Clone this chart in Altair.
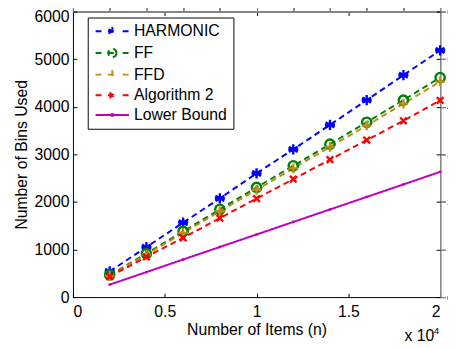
import altair as alt
import pandas as pd

n_items = [2000, 4000, 6000, 8000, 10000, 12000, 14000, 16000, 18000, 20000]
series_names = ["HARMONIC", "FF", "FFD", "Algorithm 2", "Lower Bound"]
harmonic = [540, 1050, 1565, 2075, 2600, 3105, 3620, 4140, 4665, 5185]
ff = [465, 915, 1380, 1845, 2305, 2760, 3215, 3675, 4140, 4615]
ffd = [450, 895, 1350, 1805, 2255, 2705, 3155, 3605, 4065, 4530]
alg2 = [430, 845, 1245, 1660, 2070, 2480, 2890, 3300, 3705, 4135]
lower = [262, 525, 790, 1053, 1316, 1579, 1842, 2105, 2368, 2632]
colors = ["#0000FF", "#008000", "#BF8C1A", "#FF0000", "#BF00BF"]
dashes = [[6, 4], [6, 4], [6, 4], [6, 4], [1, 0]]

rows = []
for name, vals in zip(series_names, [harmonic, ff, ffd, alg2, lower]):
    for x, y in zip(n_items, vals):
        rows.append({"n": x, "bins": y, "series": name})
df = pd.DataFrame(rows)

FONT = "Liberation Sans"
FS = 16
W, H = 373, 290

xscale = alt.Scale(domain=[0, 20000], nice=False, zero=False)
yscale = alt.Scale(domain=[0, 6000], nice=False, zero=False)
xvals = [0, 5000, 10000, 15000, 20000]
yvals = [0, 1000, 2000, 3000, 4000, 5000, 6000]

axis_common = dict(offset=-4, tickSize=4, domain=False, grid=False,
                   tickColor="black", labelColor="black", titleColor="black",
                   labelFont=FONT, titleFont=FONT, labelFontSize=FS,
                   titleFontSize=FS, titleFontWeight="normal")

x_bottom = alt.X("n:Q", scale=xscale,
                 axis=alt.Axis(orient="bottom", values=xvals,
                               labelExpr="'' + datum.value/10000",
                               title="Number of Items (n)", labelPadding=7,
                               titlePadding=2, **axis_common))
y_left = alt.Y("bins:Q", scale=yscale,
               axis=alt.Axis(orient="left", values=yvals, format="d",
                             labelOffset={"condition": {"test": "datum.value == 6000", "value": 5}, "value": 0},
                             title="Number of Bins Used", labelPadding=4,
                             titlePadding=5, **axis_common))

# legend sample paths (unit = 7 px, symbol drawn 34 px wide)
sym_dash = "M-2.43,0H-1.5M-0.64,0H0.64M1.5,0H2.43"
sym_paths = {
    "HARMONIC": sym_dash + "M0,-0.64V0.64M-0.55,-0.32L0.55,0.32M-0.55,0.32L0.55,-0.32",
    "FF": sym_dash + "M0.6,0A0.6,0.6 0 1 1 -0.6,0A0.6,0.6 0 1 1 0.6,0",
    "FFD": sym_dash + "M0,-0.64V0.64",
    "Algorithm 2": sym_dash + "M-0.4,-0.4L0.4,0.4M-0.4,0.4L0.4,-0.4",
    "Lower Bound": "M-2.43,0H2.43M-0.1,-0.1H0.1V0.1H-0.1Z",
}
sig = ""
for k in series_names[:-1]:
    sig += "datum.value === '%s' ? '%s' : " % (k, sym_paths[k])
sig += "'%s'" % sym_paths["Lower Bound"]

legend = alt.Legend(
    title=None, orient="none", legendX=15, legendY=6,
    strokeColor="black", fillColor="white", padding=6,
    labelFont=FONT, labelFontSize=FS, labelColor="black", labelLimit=300,
    symbolSize=196, symbolStrokeWidth=2, rowPadding=4, labelOffset=14,
    symbolOffset=11,
    symbolType={"expr": sig}, symbolFillColor="transparent",
)

color = alt.Color("series:N", scale=alt.Scale(domain=series_names, range=colors),
                  legend=legend, sort=series_names)

lines = alt.Chart(df).mark_line(strokeWidth=2).encode(
    x=x_bottom, y=y_left, color=color,
    strokeDash=alt.StrokeDash("series:N", scale=alt.Scale(domain=series_names, range=dashes), legend=None),
    detail="series:N",
)

marker_paths = {
    "HARMONIC": "M0,-1V1M-0.87,-0.5L0.87,0.5M-0.87,0.5L0.87,-0.5M-1,0H1",
    "FF": "circle",
    "FFD": "M-1,0H1M0,-1V1",
    "Algorithm 2": "M-0.8,-0.8L0.8,0.8M-0.8,0.8L0.8,-0.8",
}
marker_sizes = {"HARMONIC": 105, "FF": 90, "FFD": 95, "Algorithm 2": 70}

layers = [lines]
for name, col in zip(series_names[:-1], colors[:-1]):
    layers.append(
        alt.Chart(df).transform_filter(alt.datum.series == name)
        .mark_point(shape=marker_paths[name], filled=False, color=col,
                    strokeWidth=2.4, size=marker_sizes[name], opacity=1)
        .encode(x="n:Q", y="bins:Q")
    )
layers.append(
    alt.Chart(df).transform_filter(alt.datum.series == "Lower Bound")
    .mark_circle(color=colors[-1], size=8, opacity=1)
    .encode(x="n:Q", y="bins:Q")
)

frame = alt.Chart(df).mark_point(opacity=0).encode(
    x=alt.X("n:Q", scale=xscale,
            axis=alt.Axis(orient="top", values=xvals, labels=False, title=None, **axis_common)),
    y=alt.Y("bins:Q", scale=yscale,
            axis=alt.Axis(orient="right", values=yvals, labels=False, title=None, **axis_common)),
)
layers.append(frame)

exp_df = pd.DataFrame({"n": [20000], "t": ["x 10"], "s": ["4"]})
exp_main = alt.Chart(exp_df).mark_text(font=FONT, fontSize=FS, align="right",
                                       baseline="alphabetic", dx=-6, color="black").encode(
    x=alt.X("n:Q"), y=alt.value(335), text="t:N")
exp_sup = alt.Chart(exp_df).mark_text(font=FONT, fontSize=10, align="right",
                                      baseline="alphabetic", dx=-1, dy=-8, color="black").encode(
    x=alt.X("n:Q"), y=alt.value(335), text="s:N")
layers += [exp_main, exp_sup]

chart = alt.layer(*layers).properties(
    width=W, height=H,
    autosize=alt.AutoSizeParams(type="none"),
    padding={"left": 66, "top": 1, "right": 8, "bottom": 47},
    background="white",
).configure_view(stroke="black", strokeWidth=1)

chart.save("out.html", embed_options={"renderer": "svg", "actions": False})
